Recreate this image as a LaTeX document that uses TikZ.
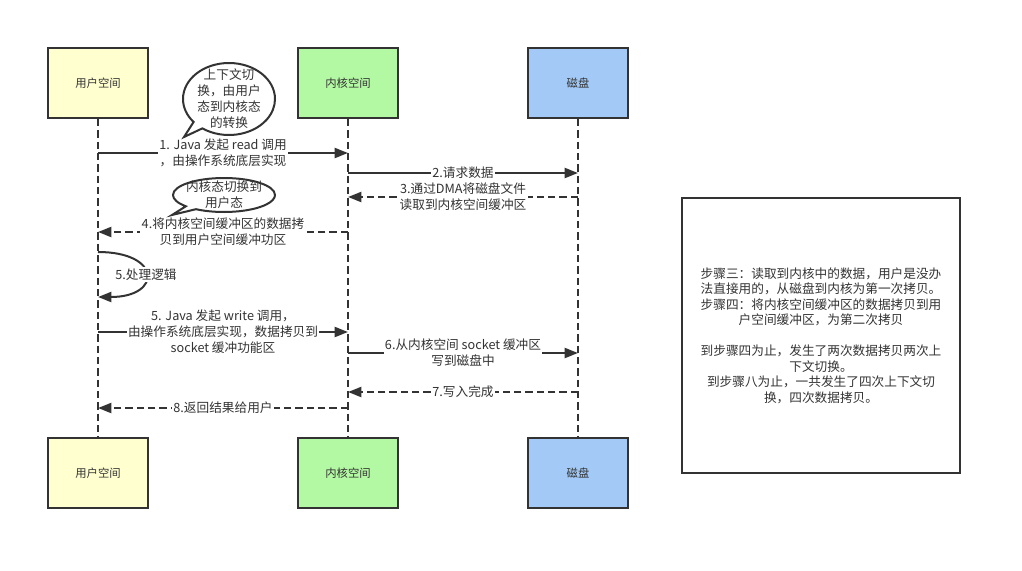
\documentclass[tikz,border=0pt]{standalone}
\usepackage{fontspec}
\usepackage{tikz}
\usetikzlibrary{arrows.meta, shapes.callouts}
\newfontfamily\cjk{Noto Sans CJK SC}
\definecolor{LineGray}   {RGB}{51, 51, 51}
\definecolor{UserYellow} {RGB}{255,255,208}
\definecolor{KernelGreen}{RGB}{179,248,163}
\definecolor{DiskBlue}   {RGB}{163,202,246}

\begin{document}
\begin{tikzpicture}[
  x=0.75pt, y=-0.75pt,
  lane/.style={draw=LineGray, line width=1.5pt, minimum width=75pt,
               minimum height=52.5pt, text=LineGray,
               font=\cjk\fontsize{8.5}{11}\selectfont},
  life/.style={draw=LineGray, line width=1.5pt, dash pattern=on 5.5pt off 3pt},
  msg/.style={LineGray, line width=1.5pt, -{Triangle[length=10pt,width=7.5pt]}},
  ret/.style={msg, dash pattern=on 5.5pt off 3pt},
  lbl/.style={fill=white, inner sep=1pt, align=center, text=LineGray,
              font=\cjk\fontsize{9.5}{12}\selectfont},
  bubble/.style={ellipse callout, draw=LineGray, line width=1.5pt, fill=white,
                 inner sep=0pt},
  note/.style={draw=LineGray, line width=1.5pt, minimum width=208.5pt,
               minimum height=206pt, align=center, text=LineGray,
               font=\cjk\fontsize{9.5}{11.6}\selectfont}
]
  \useasboundingbox (0,0) rectangle (1022,571);

  \node[lane, fill=UserYellow]  (ut) at (98,83)  {用户空间};
  \node[lane, fill=KernelGreen] (kt) at (348,83) {内核空间};
  \node[lane, fill=DiskBlue]    (dt) at (578,83) {磁盘};
  \node[lane, fill=UserYellow]  (ub) at (98,473)  {用户空间};
  \node[lane, fill=KernelGreen] (kb) at (348,473) {内核空间};
  \node[lane, fill=DiskBlue]    (db) at (578,473) {磁盘};

  \draw[life] (ut) -- (ub);
  \draw[life] (kt) -- (kb);
  \draw[life] (dt) -- (db);

  \draw[msg] (ut |- 0,153) -- node[lbl] {1. Java 发起 read 调用\\，由操作系统底层实现} (kt |- 0,153);
  \draw[msg] (kt |- 0,173) -- node[lbl] {2.请求数据} (dt |- 0,173);
  \draw[ret] (dt |- 0,197) -- node[lbl] {3.通过DMA将磁盘文件\\读取到内核空间缓冲区} (kt |- 0,197);
  \draw[ret] (kt |- 0,232) -- node[lbl] {4.将内核空间缓冲区的数据拷\\贝到用户空间缓冲功区} (ut |- 0,232);
  \draw[msg] (ut |- 0,252) .. controls (162,252) and (162,297) .. (ut |- 0,297)
    node[lbl, pos=0.5] {5.处理逻辑};
  \draw[msg] (ut |- 0,332) -- node[lbl] {5. Java 发起 write 调用，\\由操作系统底层实现，数据拷贝到\\socket 缓冲功能区} (kt |- 0,332);
  \draw[msg] (kt |- 0,353) -- node[lbl] {6.从内核空间 socket 缓冲区\\写到磁盘中} (dt |- 0,353);
  \draw[ret] (dt |- 0,392) -- node[lbl] {7.写入完成} (kt |- 0,392);
  \draw[ret] (kt |- 0,408) -- node[lbl] {8.返回结果给用户} (ut |- 0,408);

  \node[bubble, minimum width=69pt, minimum height=54pt,
        callout absolute pointer={(184,137)},
        label={[lbl, fill=none]center:上下文切\\换，由用户\\态到内核态\\的转换}] (sw1) at (229,99) {};
  \node[bubble, minimum width=76.5pt, minimum height=25.5pt,
        callout absolute pointer={(172,215)},
        label={[lbl, fill=none]center:内核态切换到\\用户态}] (sw2) at (224,195) {};

  \node[note] (nt) at (821,335.5) {步骤三：读取到内核中的数据，用户是没办\\法直接用的，从磁盘到内核为第一次拷贝。\\步骤四：将内核空间缓冲区的数据拷贝到用\\户空间缓冲区，为第二次拷贝\\[11.6pt]到步骤四为止，发生了两次数据拷贝两次上\\下文切换。\\到步骤八为止，一共发生了四次上下文切\\换，四次数据拷贝。};
\end{tikzpicture}
\end{document}
